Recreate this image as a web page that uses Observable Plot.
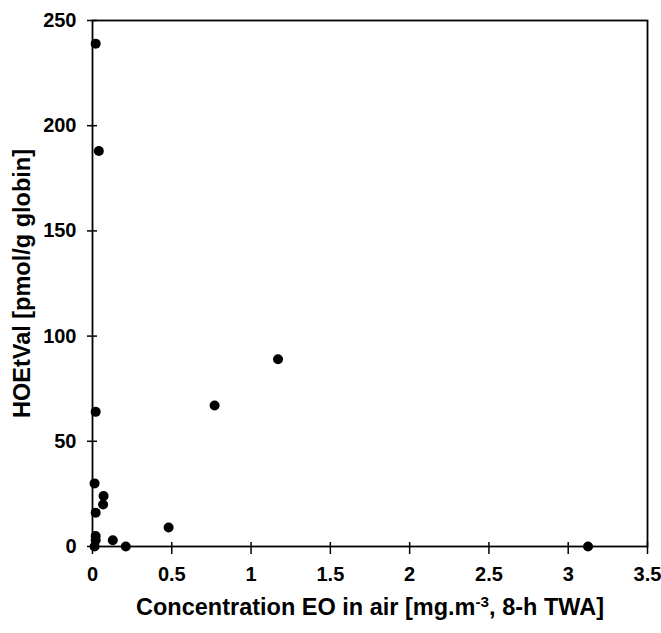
<!DOCTYPE html>
<html>
<head>
<meta charset="utf-8">
<script src="https://cdn.jsdelivr.net/npm/d3@7"></script>
<script src="https://cdn.jsdelivr.net/npm/@observablehq/plot@0.6"></script>
<style>
  html, body { margin: 0; padding: 0; background: #fff; }
  #chart svg { display: block; }
</style>
</head>
<body>
<div id="chart"></div>
<script>
// Data
const concentration = [0.02, 0.04, 0.02, 0.013, 0.07, 0.067, 0.02, 0.02, 0.02, 0.013, 0.128, 0.21, 0.48, 0.77, 1.17, 3.125];
const hoetval       = [239, 188, 64, 30, 24, 20, 16, 5, 3, 0, 3, 0, 9, 67, 89, 0];
const xTicks = [0, 0.5, 1, 1.5, 2, 2.5, 3, 3.5];
const yTicks = [0, 50, 100, 150, 200, 250];
const xTitleParts = ["Concentration EO in air [mg.m", "-3", ", 8-h TWA]"];
const yTitle = "HOEtVal [pmol/g globin]";

const points = concentration.map((x, i) => ({x, y: hoetval[i]}));
const font = "'Liberation Sans', Arial, sans-serif";

const chart = Plot.plot({
  width: 661,
  height: 633,
  marginLeft: 92,
  marginRight: 14,
  marginTop: 20,
  marginBottom: 87,
  style: {fontFamily: font, fontWeight: "bold", fontSize: "20px", color: "#000", background: "#fff"},
  x: {domain: [0, 3.5], axis: null},
  y: {domain: [0, 250], axis: null},
  marks: [
    Plot.frame({stroke: "#000", strokeWidth: 1.8}),
    // crossing tick marks
    Plot.axisX(xTicks, {anchor: "bottom", tickSize: 12, dy: -4, tickFormat: () => "", label: null, strokeWidth: 1.5}),
    Plot.axisX(xTicks, {anchor: "bottom", tickSize: 0, tickPadding: 20, tickFormat: d => String(d), label: null, fontSize: 20, fontWeight: "bold"}),
    Plot.axisY(yTicks, {anchor: "left", tickSize: 10, dx: 5, tickFormat: () => "", label: null, strokeWidth: 1.5}),
    Plot.axisY(yTicks, {anchor: "left", tickSize: 0, tickPadding: 16, tickFormat: d => String(d), label: null, fontSize: 20, fontWeight: "bold"}),
    Plot.dot(points, {x: "x", y: "y", r: 5, fill: "#000", stroke: null}),
    Plot.text([xTitleParts.join("")], {frameAnchor: "bottom", dy: 61, text: d => d, fontSize: 23.5, fontWeight: "bold", lineAnchor: "middle", textAnchor: "middle"}),
    Plot.text([yTitle], {frameAnchor: "left", dx: -70, rotate: -90, text: d => d, fontSize: 23.5, fontWeight: "bold", lineAnchor: "middle", textAnchor: "middle"})
  ]
});

// render the exponent as a real superscript
chart.querySelectorAll("text").forEach(t => {
  if (t.textContent === xTitleParts.join("")) {
    t.textContent = "";
    const ns = "http://www.w3.org/2000/svg";
    const a = document.createElementNS(ns, "tspan"); a.textContent = xTitleParts[0];
    const b = document.createElementNS(ns, "tspan"); b.textContent = xTitleParts[1];
    b.setAttribute("dy", "-0.5em"); b.setAttribute("font-size", "0.65em");
    const c = document.createElementNS(ns, "tspan"); c.textContent = xTitleParts[2];
    c.setAttribute("dy", "0.33em");
    t.append(a, b, c);
  }
});

document.getElementById("chart").appendChild(chart);
</script>
</body>
</html>
